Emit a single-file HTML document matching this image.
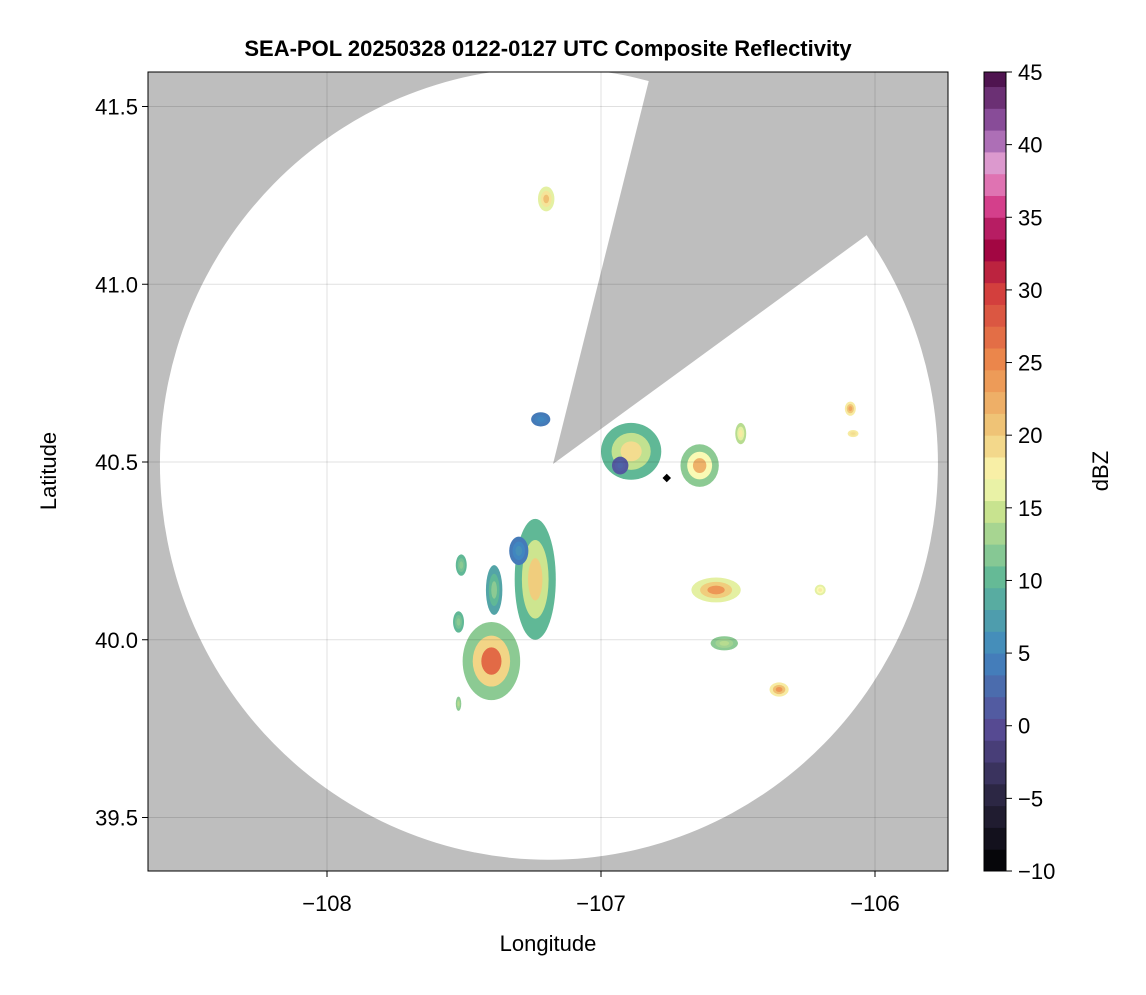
<!DOCTYPE html>
<html><head><meta charset="utf-8"><style>
body{margin:0;background:#fff;font-family:"Liberation Sans",sans-serif}
svg text{font-family:"Liberation Sans",sans-serif;fill:#000}
</style></head><body>
<svg id="c" width="1146" height="990"></svg>
<script>
const xTicks=[-108,-107,-106];
const yTicks=[39.5,40.0,40.5,41.0,41.5];
const cbTicks=[-10,-5,0,5,10,15,20,25,30,35,40,45];
// echo cells: lon, lat, radius lon (deg), radius lat (deg), edge dBZ, core dBZ
const cellLon=[-107.40,-107.24,-107.39,-107.30,-106.89,-106.93,-106.64,-106.58,-107.20,-107.22,-106.35,-106.09,-106.20,-107.51,-106.49,-106.55,-106.08,-107.52,-107.52];
const cellLat=[39.94,40.17,40.14,40.25,40.53,40.49,40.49,40.14,41.24,40.62,39.86,40.65,40.14,40.21,40.58,39.99,40.58,40.05,39.82];
const cellRx=[0.105,0.075,0.03,0.035,0.11,0.03,0.07,0.09,0.03,0.035,0.035,0.02,0.02,0.02,0.02,0.05,0.02,0.02,0.01];
const cellRy=[0.11,0.17,0.07,0.04,0.08,0.025,0.06,0.035,0.035,0.02,0.02,0.02,0.015,0.03,0.03,0.02,0.01,0.03,0.02];
const cellEdge=[12,10,8,4,10,1,12,16,16,4,18,18,16,10,14,12,18,10,12];
const cellCore=[27,20,12,6,19,2,22,24,21,5,24,23,18,12,18,14,19,12,14];

const svg=document.getElementById('c');const NS='http://www.w3.org/2000/svg';
const L=148,R=948,T=72,B=871;
const xs=v=>601+(v+107)*274;
const ys=v=>462-(v-40.5)*355.5;
const stops=[[-10,[0,0,0]],[-5,[42,37,64]],[0,[88,76,150]],[5,[64,134,192]],[10,[96,184,150]],[15,[205,229,143]],[17,[250,250,180]],[20,[240,205,125]],[25,[236,138,76]],[30,[210,59,60]],[33,[158,1,66]],[36,[217,69,146]],[38.5,[228,160,210]],[41,[150,90,170]],[45,[74,15,74]]];
function col(v){v=Math.max(-10,Math.min(45,v));for(let i=0;i<stops.length-1;i++){const a=stops[i],b=stops[i+1];if(v<=b[0]){const t=(v-a[0])/(b[0]-a[0]);const c=a[1].map((x,k)=>Math.round(x+(b[1][k]-x)*t));return `rgb(${c})`;}}return 'rgb(74,15,74)';}
function el(tag,attrs,parent){const e=document.createElementNS(NS,tag);for(const k in attrs)e.setAttribute(k,attrs[k]);(parent||svg).appendChild(e);return e;}

const defs=el('defs',{});const cp=el('clipPath',{id:'pc'},defs);el('rect',{x:L,y:T,width:R-L,height:B-T},cp);
const bg=el('rect',{x:L,y:T,width:R-L,height:B-T,fill:'#bebebe'});


const g=el('g',{'clip-path':'url(#pc)'});
const cx=xs(-107.19),cy=ys(40.495);
const circ=el('ellipse',{cx:cx,cy:cy,rx:389,ry:396,fill:'#fff'},g);


const wedge=el('polygon',{points:`553,464 659,40 960,40 960,167`,fill:'#bebebe'},g);


// grid
xTicks.forEach(t=>{el('line',{x1:xs(t),x2:xs(t),y1:T,y2:B,stroke:'#000','stroke-opacity':0.12,'stroke-width':1});});
yTicks.forEach(t=>{el('line',{x1:L,x2:R,y1:ys(t),y2:ys(t),stroke:'#000','stroke-opacity':0.12,'stroke-width':1});});
// echoes
for(let i=0;i<cellLon.length;i++){
 const x=xs(cellLon[i]),y=ys(cellLat[i]),rx=cellRx[i]*274,ry=cellRy[i]*355.5;
 const o=el('ellipse',{cx:x,cy:y,rx:rx,ry:ry,fill:col(cellEdge[i])},g);
 
 
 el('ellipse',{cx:x,cy:y,rx:rx*0.65,ry:ry*0.65,fill:col((cellEdge[i]+cellCore[i])/2)},g);
 el('ellipse',{cx:x,cy:y,rx:rx*0.35,ry:ry*0.35,fill:col(cellCore[i])},g);
}
const mk=el('rect',{x:xs(-106.76)-3,y:ys(40.455)-3,width:6,height:6,fill:'#000',transform:`rotate(45 ${xs(-106.76)} ${ys(40.455)})`});


el('rect',{x:L,y:T,width:R-L,height:B-T,fill:'none',stroke:'#000','stroke-width':1});
// ticks
xTicks.forEach(t=>{el('line',{x1:xs(t),x2:xs(t),y1:B,y2:B+6,stroke:'#000'});const tx=el('text',{x:xs(t),y:B+40,'text-anchor':'middle','font-size':22});tx.textContent='\u2212'+Math.abs(t);});
yTicks.forEach(t=>{el('line',{x1:L-6,x2:L,y1:ys(t),y2:ys(t),stroke:'#000'});const tx=el('text',{x:L-10,y:ys(t)+8,'text-anchor':'end','font-size':22});tx.textContent=t.toFixed(1);});
let t1=el('text',{x:548,y:951,'text-anchor':'middle','font-size':22});t1.textContent='Longitude';

let t2=el('text',{x:56,y:471,'text-anchor':'middle','font-size':22,transform:'rotate(-90 56 471)'});t2.textContent='Latitude';

let t3=el('text',{x:548,y:56,'text-anchor':'middle','font-size':22,'font-weight':'bold'});t3.textContent='SEA-POL 20250328 0122-0127 UTC Composite Reflectivity';

// colorbar
const cbL=984,cbR=1006,cs=v=>B-(v+10)/55*(B-T);
for(let v=-10;v<45;v+=1.5){const v2=Math.min(45,v+1.5);const r=el('rect',{x:cbL,y:cs(v2),width:cbR-cbL,height:cs(v)-cs(v2)+0.5,fill:col(v+0.75)});}
el('rect',{x:cbL,y:T,width:cbR-cbL,height:B-T,fill:'none',stroke:'#000'});
cbTicks.forEach(t=>{el('line',{x1:cbR,x2:cbR+6,y1:cs(t),y2:cs(t),stroke:'#000'});const tx=el('text',{x:cbR+12,y:cs(t)+8,'font-size':22});tx.textContent=t<0?'\u2212'+Math.abs(t):t;});
let t4=el('text',{x:1108,y:471,'text-anchor':'middle','font-size':22,transform:'rotate(-90 1108 471)'});t4.textContent='dBZ';

</script>
</body></html>
